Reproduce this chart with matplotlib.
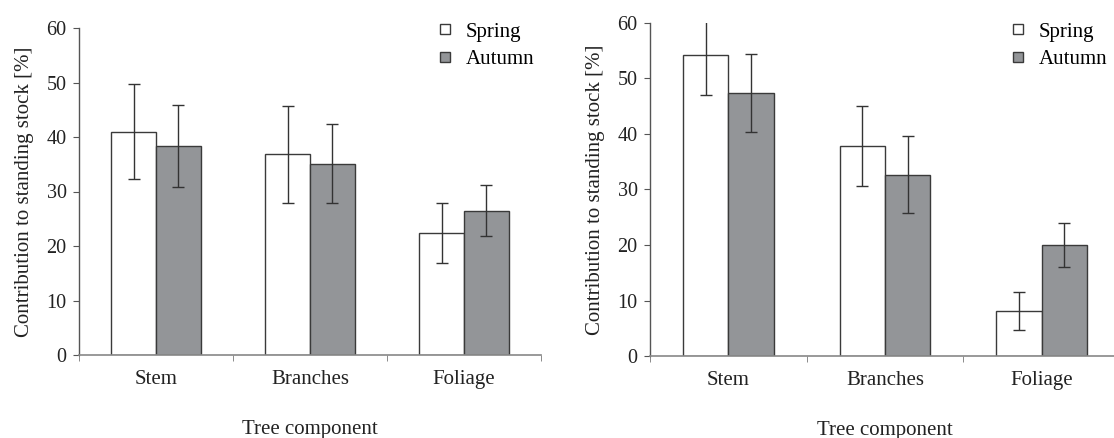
import numpy as np
import matplotlib
matplotlib.use('Agg')
import matplotlib.pyplot as plt
from matplotlib.lines import Line2D

plt.rcParams['font.family'] = ['Liberation Serif', 'DejaVu Serif']

components = ['Stem', 'Branches', 'Foliage']
seasons = ['Spring', 'Autumn']

# left panel
left_spring = [41.0, 36.8, 22.3]
left_spring_err = [8.7, 8.9, 5.5]
left_autumn = [38.4, 35.1, 26.5]
left_autumn_err = [7.5, 7.3, 4.7]

# right panel
right_spring = [54.2, 37.8, 8.1]
right_spring_err = [7.2, 7.2, 3.4]
right_autumn = [47.4, 32.7, 20.0]
right_autumn_err = [7.0, 7.0, 4.0]

FS = 15
TFS = 14.5
EDGE = '#3a3a3a'
GREY = '#939598'
W = 0.29
H = 438.0
Wf = 1114.0


def draw_panel(ax, spring, spring_err, autumn, autumn_err, leg_xy):
    x = np.arange(len(components)) + 0.5
    ekw = dict(ecolor='#333333', elinewidth=1.0, capsize=4, capthick=1.0)
    ax.bar(x - W / 2, spring, W, yerr=spring_err, color='white',
           edgecolor=EDGE, linewidth=1.0, error_kw=ekw)
    ax.bar(x + W / 2, autumn, W, yerr=autumn_err, color=GREY,
           edgecolor=EDGE, linewidth=1.0, error_kw=ekw)

    ax.set_xlim(0, len(components))
    ax.set_ylim(0, 60)
    ax.set_yticks(np.arange(0, 61, 10))
    ax.set_xticks(x)
    ax.set_xticklabels(components, fontsize=FS)
    ax.set_xticks(np.arange(len(components) + 1), minor=True)
    ax.tick_params(axis='x', which='major', length=0, pad=11)
    ax.tick_params(axis='x', which='minor', length=4, color='#777777',
                   direction='out')
    ax.tick_params(axis='y', length=4, color='#555555', labelsize=TFS,
                   pad=5)
    for t in ax.get_yticklabels() + ax.get_xticklabels():
        t.set_color('#222222')

    for s in ('top', 'right'):
        ax.spines[s].set_visible(False)
    ax.spines['left'].set_color('#555555')
    ax.spines['bottom'].set_color('#888888')
    ax.spines['left'].set_linewidth(1.0)
    ax.spines['bottom'].set_linewidth(1.2)

    ax.set_ylabel('Contribution to standing stock [%]', fontsize=FS,
                  color='#222222', labelpad=9)
    ax.set_xlabel('Tree component', fontsize=FS, color='#222222',
                  labelpad=22)

    handles = [
        Line2D([], [], ls='none', marker='s', ms=7, mfc='white',
               mec=EDGE, mew=1.0),
        Line2D([], [], ls='none', marker='s', ms=7, mfc=GREY,
               mec=EDGE, mew=1.0),
    ]
    ax.legend(handles, seasons, loc='upper right', frameon=False,
              fontsize=FS, handlelength=0.8, handletextpad=0.6,
              labelspacing=0.4, borderaxespad=0.0, borderpad=0.0,
              bbox_to_anchor=(leg_xy[0] / Wf, 1 - leg_xy[1] / H),
              bbox_transform=ax.figure.transFigure)


fig = plt.figure(figsize=(11.14, 4.38), dpi=100)
ax1 = fig.add_axes([79 / Wf, 1 - 355 / H, (541 - 79) / Wf, (355 - 28) / H])
ax2 = fig.add_axes([650 / Wf, 1 - 356 / H, (1120 - 650) / Wf, (356 - 23) / H])

draw_panel(ax1, left_spring, left_spring_err, left_autumn, left_autumn_err,
           (534, 22))
draw_panel(ax2, right_spring, right_spring_err, right_autumn,
           right_autumn_err, (1107, 22))

fig.savefig('out.png', dpi=100, facecolor='white')
